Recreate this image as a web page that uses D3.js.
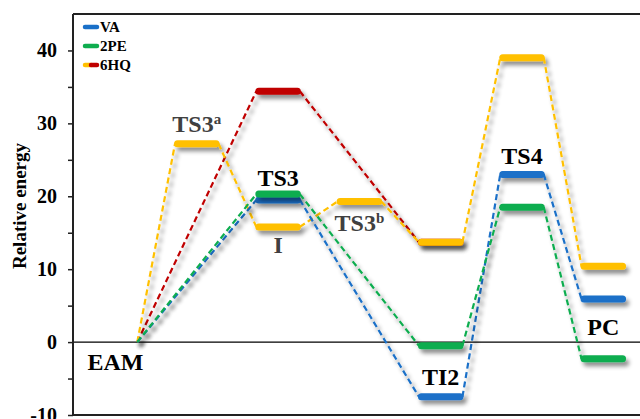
<!DOCTYPE html>
<html lang="en">
<head>
<meta charset="UTF-8">
<title>Relative energy profile</title>
<script src="https://d3js.org/d3.v7.min.js"></script>
<style>
    body { margin: 0; background: #fff; }
    svg { display: block; }
    text { font-family: 'Liberation Serif', 'Times New Roman', serif; font-weight: bold; }
</style>
</head>
<body>
<div id="chart"></div>
<script>
    // stage positions along the reaction coordinate
    var stages = ["EAM", "TS3a", "TS3", "TS3b", "TI2", "TS4", "PC"];

    // pathways: position index + relative energy
    var vaPos = [0, 2, 4, 5, 6];
    var vaEnergy = [0, 19.5, -7.5, 23.0, 5.9];
    var pePos = [0, 2, 4, 5, 6];
    var peEnergy = [0, 20.3, -0.5, 18.5, -2.3];
    var hqYellowPos = [0, 1, 2, 3, 4, 5, 6];
    var hqYellowEnergy = [0, 27.2, 15.8, 19.3, 13.7, 39.0, 10.4];
    var hqRedPos = [0, 2, 4];
    var hqRedEnergy = [0, 34.4, 13.7];

    var majorTicks = [-10, 0, 10, 20, 30, 40];
    var minorTicks = [-5, 5, 15, 25, 35];

    // stage labels, placed relative to the level they name
    var labels = [
        { text: "EAM", sup: "", pos: 0, e: 0, dy: 28, color: "#000" },
        { text: "TS3", sup: "a", pos: 1, e: 27.2, dy: -12, color: "#404040" },
        { text: "TS3", sup: "", pos: 2, e: 20.3, dy: -8, color: "#000" },
        { text: "I", sup: "", pos: 2, e: 15.8, dy: 26, color: "#404040" },
        { text: "TS3", sup: "b", pos: 3, e: 19.3, dy: 30, color: "#404040" },
        { text: "TI2", sup: "", pos: 4, e: -0.5, dy: 39, color: "#000" },
        { text: "TS4", sup: "", pos: 5, e: 23.0, dy: -10, color: "#000" },
        { text: "PC", sup: "", pos: 6, e: 5.9, dy: 36, color: "#000" }
    ];

    var width = 640, height = 419;
    var x = d3.scaleLinear().domain([0, 6]).range([115.5, 603.3]);
    var y = d3.scaleLinear().domain([-10, 45]).range([415, 14]);
    var halfW = 0.28; // half bar width in stage units
    var barW = 7;
    var serif = "'Liberation Serif', 'Times New Roman', serif";

    var svg = d3.select("#chart").append("svg")
        .attr("width", width)
        .attr("height", height);

    var defs = svg.append("defs");
    defs.append("filter")
        .attr("id", "shadow")
        .attr("x", "-20%").attr("y", "-20%")
        .attr("width", "140%").attr("height", "160%")
        .append("feDropShadow")
        .attr("dx", 3).attr("dy", 4)
        .attr("stdDeviation", 2)
        .attr("flood-color", "#000")
        .attr("flood-opacity", 0.45);

    // frame lines
    svg.append("line")
        .attr("x1", 73).attr("x2", width)
        .attr("y1", y(45)).attr("y2", y(45))
        .attr("stroke", "#222").attr("stroke-width", 2);
    svg.append("line")
        .attr("x1", 73).attr("x2", width)
        .attr("y1", y(-10)).attr("y2", y(-10))
        .attr("stroke", "#222").attr("stroke-width", 2);
    svg.append("line")
        .attr("x1", 73).attr("x2", width)
        .attr("y1", y(0)).attr("y2", y(0))
        .attr("stroke", "#000").attr("stroke-width", 1.2);

    // y axis
    var yAxis = svg.append("g")
        .attr("transform", "translate(73,0)")
        .call(d3.axisLeft(y).tickValues(majorTicks).tickSize(5).tickPadding(11).tickFormat(d => String(d)));
    yAxis.attr("font-family", serif).attr("font-size", 20);
    svg.append("g")
        .attr("transform", "translate(73,0)")
        .call(d3.axisLeft(y).tickValues(minorTicks).tickSize(5).tickFormat(""))
        .select(".domain").remove();
    svg.selectAll(".tick line").attr("stroke", "#222").attr("stroke-width", 1.5);
    yAxis.select(".domain").attr("stroke", "#222").attr("stroke-width", 2)
        .attr("d", "M0," + y(45) + "V" + y(-10));
    yAxis.selectAll(".tick text")
        .attr("font-family", serif)
        .style("font-weight", "bold")
        .style("font-size", "20px")
        .attr("fill", "#000");

    svg.append("text")
        .attr("transform", "translate(26," + 206 + ") rotate(-90)")
        .attr("text-anchor", "middle")
        .style("font-size", "19px")
        .text("Relative energy");

    // draw one pathway: dashed connectors then bars
    function drawPath(pos, energy, color) {
        var g = svg.append("g").attr("filter", "url(#shadow)");
        var links = [];
        for (var i = 0; i < pos.length - 1; i++) {
            links.push({ p0: pos[i], e0: energy[i], p1: pos[i + 1], e1: energy[i + 1] });
        }
        g.selectAll("line.link").data(links).enter().append("line")
            .attr("class", "link")
            .attr("x1", d => x(d.p0 + halfW) - 1)
            .attr("y1", d => y(d.e0))
            .attr("x2", d => x(d.p1 - halfW) + 1)
            .attr("y2", d => y(d.e1))
            .attr("stroke", color)
            .attr("stroke-width", 2.2)
            .attr("stroke-dasharray", "6,3.5");
        // skip the shared starting level, drawn in black later
        var bars = pos.map((p, i) => ({ p: p, e: energy[i] })).slice(1);
        g.selectAll("line.bar").data(bars).enter().append("line")
            .attr("class", "bar")
            .attr("x1", d => x(d.p - halfW) + barW / 2)
            .attr("x2", d => x(d.p + halfW) - barW / 2)
            .attr("y1", d => y(d.e))
            .attr("y2", d => y(d.e))
            .attr("stroke", color)
            .attr("stroke-width", barW)
            .attr("stroke-linecap", "round");
    }

    var blue = "#1a70c8", green = "#0fad4f", yellow = "#ffc000", red = "#c00000";
    drawPath(hqRedPos, hqRedEnergy, red);
    drawPath(hqYellowPos, hqYellowEnergy, yellow);
    drawPath(vaPos, vaEnergy, blue);
    drawPath(pePos, peEnergy, green);

    // starting complex
    svg.append("g").attr("filter", "url(#shadow)")
        .append("line")
        .attr("x1", x(-halfW) + barW / 2)
        .attr("x2", x(halfW) - barW / 2)
        .attr("y1", y(0)).attr("y2", y(0))
        .attr("stroke", "#000")
        .attr("stroke-width", barW)
        .attr("stroke-linecap", "round");

    // stage labels
    labels.forEach(function (l) {
        var t = svg.append("text")
            .attr("x", x(l.pos))
            .attr("y", y(l.e) + l.dy)
            .attr("text-anchor", "middle")
            .attr("fill", l.color)
            .style("font-size", "24px")
            .text(l.text);
        if (l.sup) {
            t.append("tspan")
                .attr("dy", -8)
                .style("font-size", "15px")
                .text(l.sup);
        }
    });

    // legend
    var legend = [
        { name: "VA", colors: [blue] },
        { name: "2PE", colors: [green] },
        { name: "6HQ", colors: [yellow, red] }
    ];
    var lg = svg.append("g");
    legend.forEach(function (d, i) {
        var ly = 27 + i * 19;
        var seg = 12 / d.colors.length;
        d.colors.forEach(function (c, j) {
            lg.append("line")
                .attr("x1", 85 + j * seg).attr("x2", 85 + (j + 1) * seg)
                .attr("y1", ly).attr("y2", ly)
                .attr("stroke", c).attr("stroke-width", 4.5)
                .attr("stroke-linecap", j === 0 && d.colors.length > 1 ? "round" : "round");
        });
        lg.append("text")
            .attr("x", 100).attr("y", ly + 5)
            .style("font-size", "15px")
            .text(d.name);
    });
</script>
</body>
</html>
